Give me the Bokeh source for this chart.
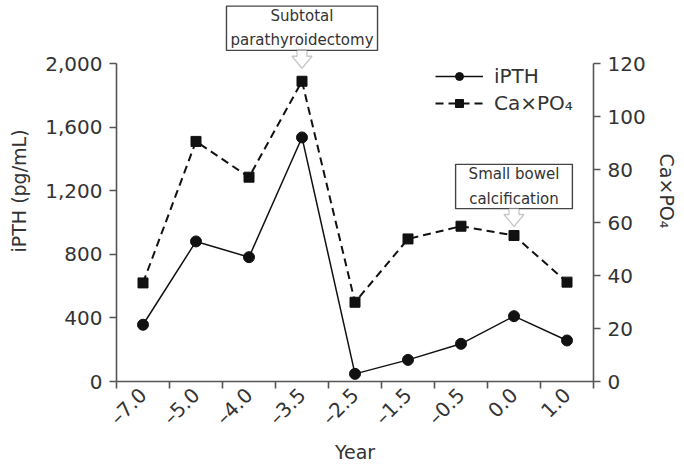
import math
from bokeh.plotting import figure
from bokeh.models import (Range1d, LinearAxis, FixedTicker, NumeralTickFormatter,
                          Legend, LegendItem, Label, PolyAnnotation)
from bokeh.embed import file_html
from bokeh.resources import INLINE

# ---- data ----
years = ["–7.0", "–5.0", "–4.0", "–3.5", "–2.5", "–1.5", "–0.5", "0.0", "1.0"]
ipth = [357, 881, 782, 1535, 48, 136, 237, 411, 258]
ca_po4 = [37.2, 90.6, 77.1, 113.3, 29.9, 53.8, 58.6, 55.1, 37.5]
ipth_ticks = [0, 400, 800, 1200, 1600, 2000]
ca_ticks = [0, 20, 40, 60, 80, 100, 120]
callouts = [("Subtotal\nparathyroidectomy", 3), ("Small bowel\ncalcification", 7)]

# ---- layout ----
W, H = 684, 466
ML, MR, MB = 116, 91, 85
AXIS_TOP = 63                       # pixel row of the 2,000 / 120 tick
FW = W - ML - MR
FH = H - MB                         # frame reaches the top edge (room for callout)
PLOT_H = FH - AXIS_TOP              # pixels spanned by 0..2000
IPTH_MAX, CA_MAX = 2000, 120
Y_END = IPTH_MAX * FH / PLOT_H
CA_END = CA_MAX * FH / PLOT_H
FONT = "DejaVu Sans"
AX = "#555555"
TXT = "#333333"
INK = "#111111"

xs = [i + 0.5 for i in range(len(years))]

p = figure(width=W, height=H, output_backend="svg", toolbar_location=None,
           x_range=Range1d(0, len(years)), y_range=Range1d(0, Y_END),
           x_axis_type=None, y_axis_type=None,
           min_border_left=ML, min_border_right=MR,
           min_border_top=0, min_border_bottom=MB)
p.extra_y_ranges = {"ca": Range1d(0, CA_END)}
p.outline_line_color = None
p.background_fill_color = "white"
p.border_fill_color = "white"


def style_axis(ax, label_size="19px"):
    ax.axis_line_color = AX
    ax.axis_line_width = 1.6
    ax.major_tick_line_color = AX
    ax.major_tick_line_width = 1.6
    ax.minor_tick_line_color = AX
    ax.minor_tick_line_width = 1.6
    ax.major_label_text_font = FONT
    ax.major_label_text_font_size = "20px"
    ax.major_label_text_color = TXT
    ax.axis_label_text_font = FONT
    ax.axis_label_text_font_size = label_size
    ax.axis_label_text_font_style = "normal"
    ax.axis_label_text_color = TXT


yl = LinearAxis(ticker=FixedTicker(ticks=ipth_ticks),
                formatter=NumeralTickFormatter(format="0,0"),
                axis_label="iPTH (pg/mL)", bounds=(0, IPTH_MAX))
style_axis(yl)
yl.major_tick_out = 7
yl.major_tick_in = 0
yl.major_label_standoff = 7
yl.axis_label_standoff = 12
p.add_layout(yl, "left")

yr = LinearAxis(y_range_name="ca", ticker=FixedTicker(ticks=ca_ticks),
                axis_label="Ca×PO₄", bounds=(0, CA_MAX))
style_axis(yr)
yr.major_tick_out = 7
yr.major_tick_in = 0
yr.major_label_standoff = 7
yr.axis_label_standoff = 7
p.add_layout(yr, "right")

xa = LinearAxis(ticker=FixedTicker(ticks=xs, minor_ticks=list(range(len(years) + 1))),
                major_label_overrides={x: lab for x, lab in zip(xs, years)},
                major_label_orientation=math.pi / 4,
                axis_label="Year")
style_axis(xa)
xa.major_tick_out = 0
xa.major_tick_in = 0
xa.minor_tick_out = 7
xa.minor_tick_in = 0
xa.major_label_standoff = 3
xa.axis_label_standoff = 0
p.add_layout(xa, "below")

# ---- series ----
l1 = p.line(xs, ipth, line_color=INK, line_width=1.5)
s1 = p.scatter(xs, ipth, marker="circle", size=11, fill_color=INK, line_color=INK)
l2 = p.line(xs, ca_po4, y_range_name="ca", line_color=INK, line_width=2, line_dash="8 5")
s2 = p.scatter(xs, ca_po4, y_range_name="ca", marker="square", size=10,
               fill_color=INK, line_color=INK)

legend = Legend(items=[LegendItem(label="iPTH", renderers=[l1, s1]),
                       LegendItem(label="Ca×PO₄", renderers=[l2, s2])],
                location=(319, 266), glyph_width=48, glyph_height=20,
                label_height=20, spacing=3, padding=0, margin=0,
                border_line_color=None, background_fill_alpha=0,
                label_text_font=FONT, label_text_font_size="20px",
                label_text_color=TXT, label_standoff=11)
p.add_layout(legend)

# ---- callouts ----
dx = len(years) / FW           # data units per pixel (x)
dy = Y_END / FH                # data units per pixel (y, iPTH scale)
tip_gap = {3: 13, 7: 9}
pads = {3: (4, 1), 7: (13, 1)}
for text, idx in callouts:
    cx = xs[idx]
    py = ca_po4[idx] * IPTH_MAX / CA_MAX
    tip = py + tip_gap[idx] * dy
    stem_top = tip + 18 * dy
    shoulder = tip + 12 * dy
    lab = Label(x=cx, y=stem_top + 22 * dy, text=text,
                text_align="center", text_baseline="middle",
                text_font=FONT, text_font_size="15px", text_color=TXT,
                text_line_height=1.35,
                border_line_color="#444444", border_line_width=1.4,
                background_fill_color="white", background_fill_alpha=1,
                padding=pads[idx])
    p.add_layout(lab)
    poly = PolyAnnotation(
        xs=[cx - 5 * dx, cx - 5 * dx, cx - 10 * dx, cx, cx + 10 * dx, cx + 5 * dx, cx + 5 * dx],
        ys=[stem_top, shoulder, shoulder, tip, shoulder, shoulder, stem_top],
        fill_color="white", fill_alpha=1, line_color="#444444", line_width=1.3)
    p.add_layout(poly)

open("out.html", "w").write(file_html(p, INLINE))
